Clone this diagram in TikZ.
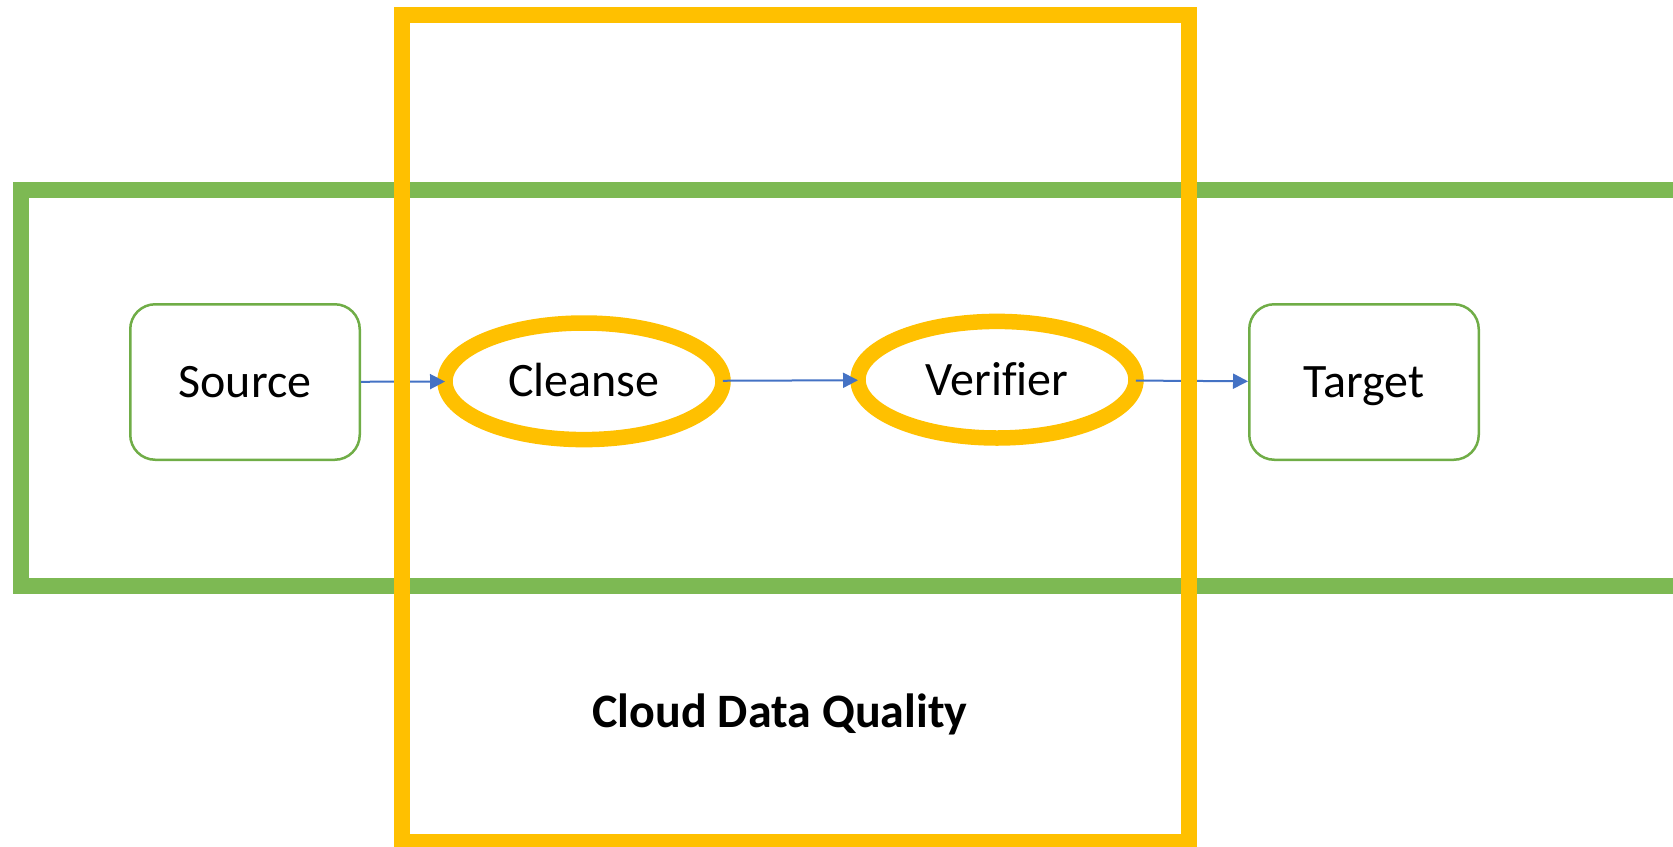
\documentclass[tikz,border=0pt]{standalone}
\usepackage{fontspec}
\setmainfont{Carlito}[Ligatures=NoCommon]
\usetikzlibrary{arrows.meta,shapes.geometric}

\definecolor{laneGreen}{RGB}{125,185,83}
\definecolor{boxGreen}{RGB}{112,173,71}
\definecolor{dqYellow}{RGB}{255,192,0}
\definecolor{flowBlue}{RGB}{68,114,196}

\tikzset{
  labeltext/.style={font=\fontsize{48}{58}\selectfont, text height=31pt, text depth=0pt},
  endpoint/.style={labeltext, draw=boxGreen, line width=2.5pt, fill=white,
    rounded corners=25pt, minimum width=229.5pt, minimum height=155.5pt, inner sep=0pt},
  stage/.style={labeltext, ellipse, draw=dqYellow, line width=15.5pt, fill=white,
    minimum width=278pt, minimum height=116.6pt, inner sep=0pt, outer sep=0pt},
  flow/.style={draw=flowBlue, line width=2pt, -{Triangle[length=15pt, width=15pt]}},
  lane/.style={draw=laneGreen, line width=16pt},
  zone/.style={draw=dqYellow, line width=16pt},
}

\begin{document}
\begin{tikzpicture}[x=1pt, y=-1pt]
  \useasboundingbox (0,0) rectangle (1673,846);
  \clip (0,0) rectangle (1673,846);

  % pipeline lane (open to the right)
  \draw[lane] (21,190) rectangle (1720,586);

  % endpoints
  \node[endpoint] (source) at (245,382) {Source};
  \node[endpoint] (target) at (1364,382) {Target};

  % quality stages
  \node[stage] (cleanse) at (584,381.3) {Cleanse};
  \node[stage] (verifier) at (997,379.7) {Verifier};

  % data flow
  \draw[flow] (source) -- (cleanse);
  \draw[flow] (cleanse) -- (verifier);
  \draw[flow] (verifier) -- (target);

  % cloud data quality zone
  \draw[zone] (401.5,14.5) rectangle (1188.5,842);
  \node[labeltext, font=\fontsize{48}{58}\selectfont\bfseries] (cdq) at (780,711.5) {Cloud Data Quality};
\end{tikzpicture}
\end{document}
